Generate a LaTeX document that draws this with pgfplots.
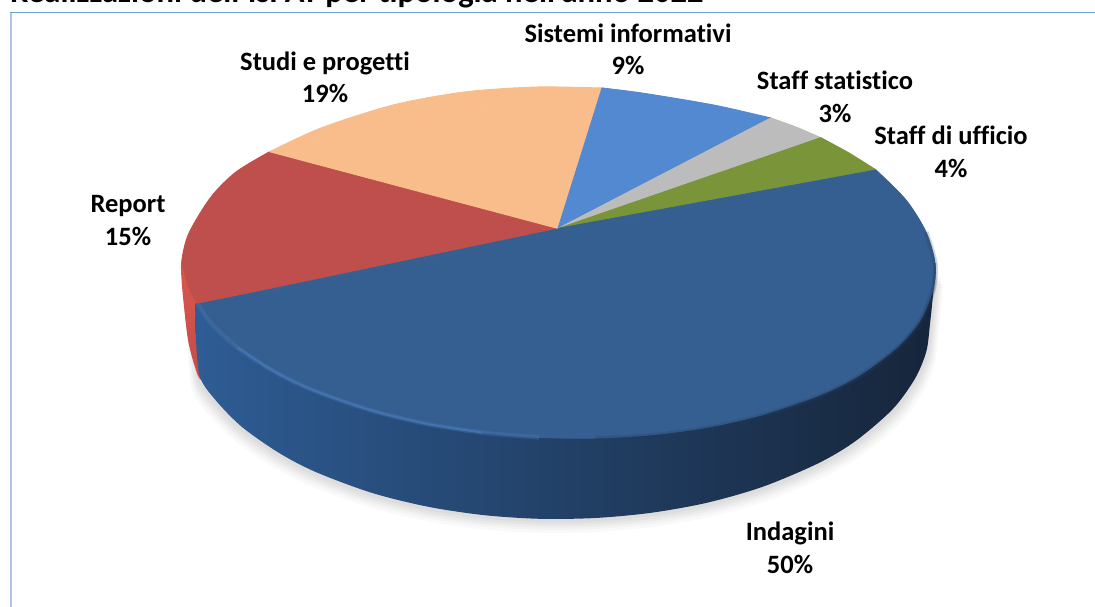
\documentclass[border=0pt]{standalone}
\usepackage{pgfplots}
\pgfplotsset{compat=1.18}
\usepackage{pgfplotstable}
\usepackage{fontspec}
\setmainfont{Carlito}[Ligatures=NoCommon]
\definecolor{cBlue}{HTML}{365F91}
\definecolor{cRed}{HTML}{BE4F4C}
\definecolor{cPeach}{HTML}{F9BD8C}
\definecolor{cSky}{HTML}{5289D0}
\definecolor{cGrey}{HTML}{BCBCBC}
\definecolor{cGreen}{HTML}{7A9439}
\definecolor{cFrameL}{HTML}{AEC6E6}
\definecolor{cFrameT}{HTML}{6F9FD8}
\definecolor{cRim}{HTML}{4A7FBF}
\definecolor{cEdge}{HTML}{22395A}
\pgfplotstableread{
x y
195.5 303
196 340
200 377
215.8 400.4
241.8 426.8
279 452.9
316.2 472.2
372 492.9
427.8 506.7
483.6 515.1
539.4 518.8
595.2 518
651 512.8
706.8 502.8
762.6 486.8
818.4 463.2
855.6 441
892.8 409
915 378.6
926.3 351.5
930 324
933 295
935 270
}\sideoutline
\tikzset{lab/.style={anchor=base,font=\bfseries\fontsize{26.5}{30}\selectfont,text=black,inner sep=0pt}}
\pgfplotsset{slice/.style={draw=#1, fill=#1, line width=0.9pt}}
\begin{document}
\begin{tikzpicture}
\useasboundingbox (0,0) rectangle (1095pt,607pt);
\clip (0,0) rectangle (1095pt,607pt);
\begin{axis}[
  scale only axis, width=1095pt, height=607pt,
  xmin=0, xmax=1095, ymin=0, ymax=607, y dir=reverse,
  axis lines=none, clip=false,
]
% frame
\addplot[line width=2pt, color=cFrameL] coordinates {(11,12) (11,607)};
\addplot[line width=1.5pt, color=cFrameT] coordinates {(10,12.5) (1095,12.5)};
% soft shadow
\addplot[smooth, draw=none, fill=black, fill opacity=0.025] table[x expr=558+(\thisrow{x}-558)*1.022, y expr=\thisrow{y}+14] {\sideoutline};
\addplot[smooth, draw=none, fill=black, fill opacity=0.025] table[x expr=558+(\thisrow{x}-558)*1.018, y expr=\thisrow{y}+11] {\sideoutline};
\addplot[smooth, draw=none, fill=black, fill opacity=0.03] table[x expr=558+(\thisrow{x}-558)*1.014, y expr=\thisrow{y}+8.5] {\sideoutline};
\addplot[smooth, draw=none, fill=black, fill opacity=0.03] table[x expr=558+(\thisrow{x}-558)*1.010, y expr=\thisrow{y}+6] {\sideoutline};
\addplot[smooth, draw=none, fill=black, fill opacity=0.03] table[x expr=558+(\thisrow{x}-558)*1.006, y expr=\thisrow{y}+3.5] {\sideoutline};
% red side
\addplot[smooth, draw=none, top color={rgb,255:red,222;green,90;blue,82}, bottom color={rgb,255:red,196;green,76;blue,70}] coordinates {(189,233) (182,258) (181,270) (183,297) (188,340) (195,367) (201,380) (215,380)};
% blue side
\addplot[smooth, draw=none, left color={rgb,255:red,46;green,92;blue,148}, middle color={rgb,255:red,31;green,54;blue,88}, right color={rgb,255:red,22;green,37;blue,58}] table {\sideoutline};
% Report
\addplot[slice=cRed] coordinates {(558,228.5) (198,304) (269.6,151.7)};
\addplot[smooth, slice=cRed] coordinates {(269.6,151.7) (236,172) (211,197) (189,233) (182,260) (185,275) (190,290) (198,304)};
% Studi e progetti
\addplot[slice=cPeach] coordinates {(558,228.5) (269.6,151.7) (602,88)};
\addplot[smooth, slice=cPeach] coordinates {(269.6,151.7) (321,128) (393,105) (464,92) (536,87) (602,88)};
% Sistemi informativi
\addplot[slice=cSky] coordinates {(558,228.5) (602,88) (770.7,118)};
\addplot[smooth, slice=cSky] coordinates {(602,88) (642,93) (713.6,105) (770.7,118)};
% Staff statistico
\addplot[slice=cGrey] coordinates {(558,228.5) (770.7,118) (820.7,137.7)};
\addplot[smooth, slice=cGrey] coordinates {(770.7,118) (796,127) (820.7,137.7)};
% Staff di ufficio
\addplot[slice=cGreen] coordinates {(558,228.5) (820.7,137.7) (876,170)};
\addplot[smooth, slice=cGreen] coordinates {(820.7,137.7) (849,153) (876,170)};
% Indagini
\addplot[slice=cBlue] coordinates {(558,228.5) (876,170) (198,304)};
\addplot[smooth, slice=cBlue] coordinates {(876,170) (906,200) (926,232) (935,263) (933,289.5) (920,320.6) (897,347.4) (859.6,375.2) (822,394.3) (765,414) (709,427) (652,434.7) (595.7,438) (539,437.4) (482.6,432.7) (426,423.8) (369.5,410) (313,390.2) (275,372) (237.6,347.6) (211,323.3) (198,304)};
% rim
\addplot[smooth, line width=4.5pt, color=cRim, opacity=0.30] coordinates {(198,304) (211,323.3) (237.6,347.6) (275,372) (313,390.2) (369.5,410) (426,423.8) (482.6,432.7) (539,437.4)};
\addplot[smooth, line width=2pt, color=cRim, opacity=0.55] coordinates {(237.6,347.6) (275,372) (313,390.2) (369.5,410) (426,423.8) (482.6,432.7)};
\addplot[smooth, line width=5pt, color=cEdge, opacity=0.22] coordinates {(595.7,438.5) (652,435.5) (709,428) (765,415) (822,395.3) (859.6,376.2) (897,348.4) (920,321.6) (933,290) (935,263) (926,232)};
\addplot[smooth, line width=2.5pt, color=cEdge, opacity=0.30] coordinates {(765,415.5) (822,396) (859.6,377) (897,349) (920,322) (933,291) (935,263)};
% labels
\node[lab] at (axis cs:325,70.5) {Studi e progetti};
\node[lab] at (axis cs:325,102.5) {19\%};
\node[lab] at (axis cs:628,42.5) {Sistemi informativi};
\node[lab] at (axis cs:628,74.5) {9\%};
\node[lab] at (axis cs:835,89.5) {Staff statistico};
\node[lab] at (axis cs:835,122.5) {3\%};
\node[lab] at (axis cs:951,144.5) {Staff di ufficio};
\node[lab] at (axis cs:951,177.5) {4\%};
\node[lab] at (axis cs:128,212.5) {Report};
\node[lab] at (axis cs:128,245.5) {15\%};
\node[lab] at (axis cs:790,540.5) {Indagini};
\node[lab] at (axis cs:790,573.5) {50\%};
\node[anchor=base west,inner sep=0pt,font=\bfseries\fontsize{32.6}{36}\selectfont] at (axis cs:10,2.5) {Realizzazioni dell'IsPAT per tipologia nell'anno 2022};
\end{axis}
\end{tikzpicture}
\end{document}
